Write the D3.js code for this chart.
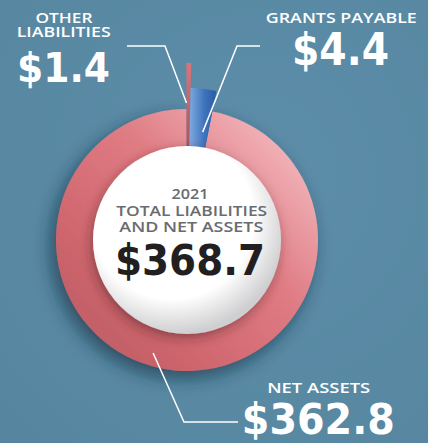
<!DOCTYPE html>
<html><head><meta charset="utf-8">
<script src="https://cdn.jsdelivr.net/npm/d3@7"></script>
<style>html,body{margin:0;padding:0;background:#5a8aa5;}svg{display:block;}</style>
</head><body>
<script>
// ---- data ----
const categories = ["Net Assets", "Grants Payable", "Other Liabilities"];
const values = [362.8, 4.4, 1.4];
const valueLabels = ["$362.8", "$4.4", "$1.4"];
const labelLines = [["NET ASSETS"], ["GRANTS PAYABLE"], ["OTHER", "LIABILITIES"]];
const totalValue = 368.7;
const totalLabel = "$368.7";
const centerLines = ["2021", "TOTAL LIABILITIES", "AND NET ASSETS"];

// ---- layout ----
const W = 428, H = 443;
const cx = 187, cy = 240;
const innerR = 94;
const outerR = [131, 152, 177];
const deg = Math.PI / 180;

const svg = d3.select("body").append("svg").attr("width", W).attr("height", H);
const defs = svg.append("defs");

// background
const bg = defs.append("radialGradient").attr("id", "bg").attr("cx", "60%").attr("cy", "40%").attr("r", "80%");
bg.append("stop").attr("offset", "0%").attr("stop-color", "#5d8eaa");
bg.append("stop").attr("offset", "100%").attr("stop-color", "#56869f");
svg.append("rect").attr("width", W).attr("height", H).attr("fill", "url(#bg)");

// gradients
const ringG = defs.append("linearGradient").attr("id", "ringG").attr("gradientUnits", "userSpaceOnUse")
  .attr("x1", cx + 120).attr("y1", cy - 120).attr("x2", cx - 110).attr("y2", cy + 110);
ringG.append("stop").attr("offset", "0%").attr("stop-color", "#f0b0b6");
ringG.append("stop").attr("offset", "30%").attr("stop-color", "#e07c84");
ringG.append("stop").attr("offset", "65%").attr("stop-color", "#cf666e");
ringG.append("stop").attr("offset", "100%").attr("stop-color", "#b3585f");

const innerShade = defs.append("radialGradient").attr("id", "innerShade").attr("gradientUnits", "userSpaceOnUse")
  .attr("cx", cx).attr("cy", cy).attr("r", outerR[0]);
innerShade.append("stop").attr("offset", "70%").attr("stop-color", "#5a2a30").attr("stop-opacity", 0.45);
innerShade.append("stop").attr("offset", "82%").attr("stop-color", "#5a2a30").attr("stop-opacity", 0);
innerShade.append("stop").attr("offset", "100%").attr("stop-color", "#5a2a30").attr("stop-opacity", 0);

const blueG = defs.append("linearGradient").attr("id", "blueG").attr("x1", "0%").attr("y1", "0%").attr("x2", "100%").attr("y2", "0%");
blueG.append("stop").attr("offset", "0%").attr("stop-color", "#7fabe0");
blueG.append("stop").attr("offset", "55%").attr("stop-color", "#3f74bd");
blueG.append("stop").attr("offset", "100%").attr("stop-color", "#285ca3");

const redG = defs.append("linearGradient").attr("id", "redG").attr("x1", "0%").attr("y1", "0%").attr("x2", "0%").attr("y2", "100%");
redG.append("stop").attr("offset", "0%").attr("stop-color", "#d8757c");
redG.append("stop").attr("offset", "100%").attr("stop-color", "#a9545b");

const whiteG = defs.append("radialGradient").attr("id", "whiteG").attr("cx", "42%").attr("cy", "38%").attr("r", "62%");
whiteG.append("stop").attr("offset", "0%").attr("stop-color", "#ffffff");
whiteG.append("stop").attr("offset", "70%").attr("stop-color", "#ffffff");
whiteG.append("stop").attr("offset", "100%").attr("stop-color", "#cfcfd1");

const sh = defs.append("filter").attr("id", "shadow").attr("x", "-30%").attr("y", "-30%").attr("width", "160%").attr("height", "160%");
sh.append("feDropShadow").attr("dx", -5).attr("dy", 7).attr("stdDeviation", 9).attr("flood-color", "#0d2a3d").attr("flood-opacity", 0.65);
const sh2 = defs.append("filter").attr("id", "shadow2").attr("x", "-30%").attr("y", "-30%").attr("width", "160%").attr("height", "160%");
sh2.append("feDropShadow").attr("dx", -2).attr("dy", 4).attr("stdDeviation", 6).attr("flood-color", "#4a1c22").attr("flood-opacity", 0.5);

// angle scale: small slices exaggerated for visibility
const smallMax = d3.max(values.slice(1));
const smallAngle = d3.scalePow().exponent(1.6).domain([0, smallMax]).range([0, 9.8 * deg]);
const startA = -0.2 * deg;
const otherA = [startA, startA + smallAngle(values[2])];
const grantsA = [otherA[1], otherA[1] + smallAngle(values[1])];
const netA = [grantsA[1], startA + 2 * Math.PI];
const fills = ["url(#ringG)", "url(#blueG)", "url(#redG)"];

const g = svg.append("g").attr("transform", `translate(${cx},${cy})`);
const arc = d3.arc();

// net assets ring with drop shadow
const netArc = arc({innerRadius: innerR - 5, outerRadius: outerR[0], startAngle: netA[0], endAngle: netA[1]});
g.append("path").attr("d", netArc).attr("fill", fills[0]).attr("filter", "url(#shadow)");
g.append("path").attr("d", netArc).attr("fill", "url(#innerShade)");

// other liabilities sliver
g.append("path")
  .attr("d", arc({innerRadius: innerR - 5, outerRadius: outerR[2], startAngle: otherA[0], endAngle: otherA[1]}))
  .attr("fill", fills[2]);
// grants payable wedge
g.append("path")
  .attr("d", arc({innerRadius: innerR - 5, outerRadius: outerR[1], startAngle: grantsA[0], endAngle: grantsA[1]}))
  .attr("fill", fills[1]);

// white centre circle
g.append("circle").attr("r", innerR).attr("fill", "url(#whiteG)").attr("filter", "url(#shadow2)");

// ---- leader lines ----
function pt(a, r) { return [Math.sin(a) * r, -Math.cos(a) * r]; }
const line = d3.line();
const leaders = [
  [pt(196.7 * deg, 118), [184 - cx, 422 - cy], [238 - cx, 422 - cy]],
  [pt((grantsA[0] + grantsA[1]) / 2 + 2 * deg, 109), [237 - cx, 46 - cy], [260 - cx, 46 - cy]],
  [pt(otherA[0], 137), [165 - cx, 46 - cy], [127 - cx, 46 - cy]]
];
g.selectAll("path.leader").data(leaders).join("path").attr("class", "leader")
  .attr("d", d => line(d)).attr("fill", "none").attr("stroke", "#ffffff").attr("stroke-width", 1.5);

// ---- texts ----
const boldFont = "'DejaVu Sans', sans-serif";
const labFont = "'Open Sans', sans-serif";
// block of lines inside one text element: lines = [[string, x, y, size, len]]
function block(lines, opts = {}) {
  const t = svg.append("text").attr("text-anchor", "middle")
    .attr("font-family", opts.font || labFont)
    .attr("font-weight", opts.weight || 600)
    .attr("fill", opts.fill || "#ffffff");
  lines.forEach(([s, x, y, size, len]) => {
    t.append("tspan").text(s).attr("x", x).attr("y", y).attr("font-size", size)
      .attr("textLength", len).attr("lengthAdjust", "spacingAndGlyphs");
  });
}
// other liabilities
block([[labelLines[2][0], 64, 22.7, 14, 57], [labelLines[2][1], 63.7, 36.7, 14, 94]]);
block([[valueLabels[2], 63.5, 81.7, 41, 93]], {font: boldFont, weight: 700});
// grants payable
block([[labelLines[1][0], 341.3, 23.3, 14.6, 151]]);
block([[valueLabels[1], 340.5, 65, 44, 97]], {font: boldFont, weight: 700});
// net assets
block([[labelLines[0][0], 318.7, 392.7, 15, 103]]);
block([[valueLabels[0], 318.3, 434, 43, 153]], {font: boldFont, weight: 700});
// centre
block([[centerLines[0], 190, 199.3, 14, 37],
       [centerLines[1], 191.7, 215.7, 14.5, 151],
       [centerLines[2], 191.3, 231.7, 14.5, 144]], {fill: "#6a6b6e", weight: 600});
block([[totalLabel, 190, 275, 43, 150]], {font: boldFont, weight: 700, fill: "#231f20"});
</script>
</body></html>
